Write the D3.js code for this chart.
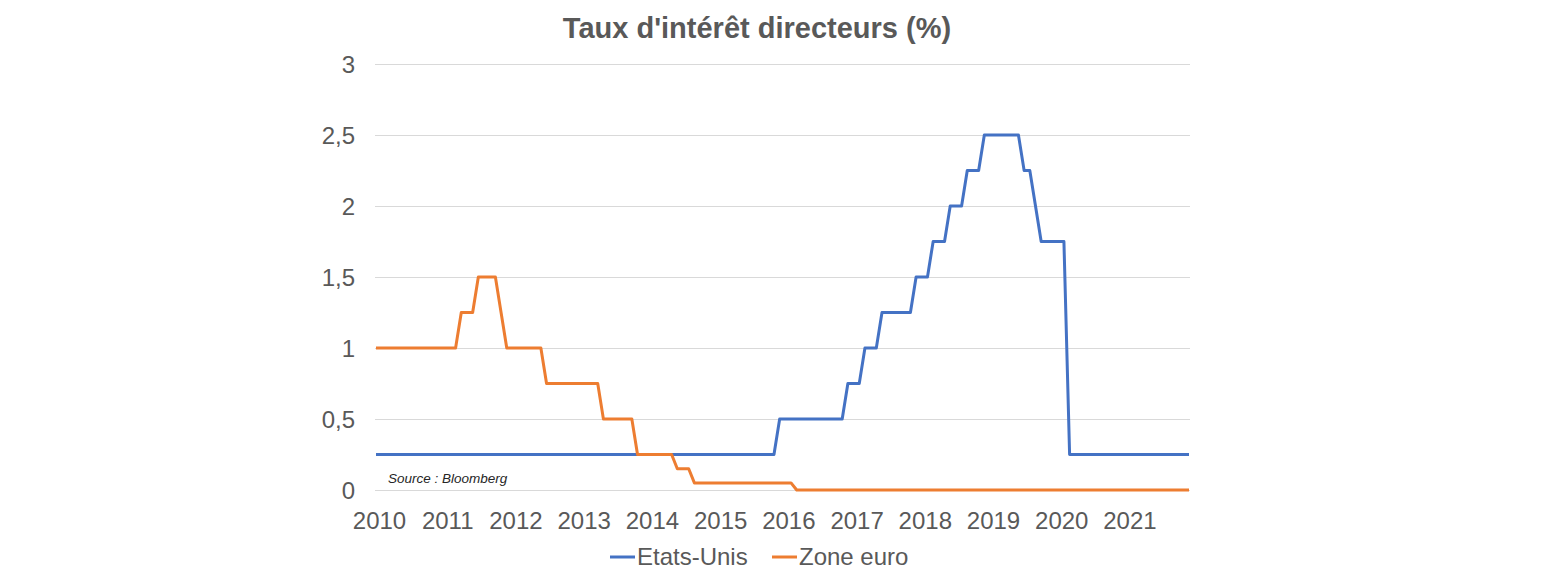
<!DOCTYPE html>
<html>
<head>
<meta charset="utf-8">
<script src="https://cdn.jsdelivr.net/npm/d3@7"></script>
<style>
  html, body { margin: 0; padding: 0; background: #fff; }
  svg { display: block; font-family: "Liberation Sans", Arial, sans-serif; }
</style>
</head>
<body>
<svg id="chart" width="1560" height="582"></svg>
<script>
// ---- Data ----
const title = "Taux d'intérêt directeurs (%)";
const sourceNote = "Source : Bloomberg";
const years = [2010, 2011, 2012, 2013, 2014, 2015, 2016, 2017, 2018, 2019, 2020, 2021];
const months = years.flatMap(y => d3.range(1, 13).map(m => `${y}-${String(m).padStart(2, "0")}`));
const yTicks = [0, 0.5, 1, 1.5, 2, 2.5, 3];
const seriesNames = ["Etats-Unis", "Zone euro"];
const seriesColors = ["#4472c4", "#ed7d31"];

// Monthly policy rates, Jan 2010 .. Dec 2021 (one row per year, 12 months each)
const usRates = [
  0.25,0.25,0.25,0.25,0.25,0.25,0.25,0.25,0.25,0.25,0.25,0.25, // 2010
  0.25,0.25,0.25,0.25,0.25,0.25,0.25,0.25,0.25,0.25,0.25,0.25, // 2011
  0.25,0.25,0.25,0.25,0.25,0.25,0.25,0.25,0.25,0.25,0.25,0.25, // 2012
  0.25,0.25,0.25,0.25,0.25,0.25,0.25,0.25,0.25,0.25,0.25,0.25, // 2013
  0.25,0.25,0.25,0.25,0.25,0.25,0.25,0.25,0.25,0.25,0.25,0.25, // 2014
  0.25,0.25,0.25,0.25,0.25,0.25,0.25,0.25,0.25,0.25,0.25,0.5,  // 2015
  0.5,0.5,0.5,0.5,0.5,0.5,0.5,0.5,0.5,0.5,0.5,0.75,            // 2016
  0.75,0.75,1,1,1,1.25,1.25,1.25,1.25,1.25,1.25,1.5,           // 2017
  1.5,1.5,1.75,1.75,1.75,2,2,2,2.25,2.25,2.25,2.5,             // 2018
  2.5,2.5,2.5,2.5,2.5,2.5,2.25,2.25,2,1.75,1.75,1.75,          // 2019
  1.75,1.75,0.25,0.25,0.25,0.25,0.25,0.25,0.25,0.25,0.25,0.25, // 2020
  0.25,0.25,0.25,0.25,0.25,0.25,0.25,0.25,0.25,0.25,0.25,0.25  // 2021
];
const euroRates = [
  1,1,1,1,1,1,1,1,1,1,1,1,                                     // 2010
  1,1,1,1.25,1.25,1.25,1.5,1.5,1.5,1.5,1.25,1,                 // 2011
  1,1,1,1,1,1,0.75,0.75,0.75,0.75,0.75,0.75,                   // 2012
  0.75,0.75,0.75,0.75,0.5,0.5,0.5,0.5,0.5,0.5,0.25,0.25,       // 2013
  0.25,0.25,0.25,0.25,0.25,0.15,0.15,0.15,0.05,0.05,0.05,0.05, // 2014
  0.05,0.05,0.05,0.05,0.05,0.05,0.05,0.05,0.05,0.05,0.05,0.05, // 2015
  0.05,0.05,0,0,0,0,0,0,0,0,0,0,                               // 2016
  0,0,0,0,0,0,0,0,0,0,0,0,                                     // 2017
  0,0,0,0,0,0,0,0,0,0,0,0,                                     // 2018
  0,0,0,0,0,0,0,0,0,0,0,0,                                     // 2019
  0,0,0,0,0,0,0,0,0,0,0,0,                                     // 2020
  0,0,0,0,0,0,0,0,0,0,0,0                                      // 2021
];
const seriesValues = [usRates, euroRates];

// ---- Layout ----
const svg = d3.select("#chart");
const plot = { left: 375, right: 1190, top: 64, bottom: 490 };
const textColor = "#595959";

const x = d3.scalePoint().domain(months).range([plot.left + 1, plot.right - 1]);
const y = d3.scaleLinear().domain([0, 3]).range([plot.bottom, plot.top]);

// Title
svg.append("text")
  .attr("x", 757).attr("y", 38)
  .attr("text-anchor", "middle")
  .attr("font-size", 29).attr("font-weight", "bold")
  .attr("fill", textColor)
  .text(title);

// Gridlines + y axis labels
const yAxis = d3.axisLeft(y)
  .tickValues(yTicks)
  .tickSize(-(plot.right - plot.left))
  .tickPadding(20)
  .tickFormat(d => String(d).replace(".", ","));
const gy = svg.append("g")
  .attr("transform", `translate(${plot.left},0)`)
  .call(yAxis);
gy.select(".domain").remove();
gy.selectAll(".tick line").attr("stroke", "#d9d9d9").attr("stroke-width", 1);
gy.selectAll(".tick text")
  .attr("font-size", 24).attr("fill", textColor)
  .attr("font-family", "Liberation Sans, Arial, sans-serif")
  .attr("dy", "0.35em");

// X axis labels (January of each year)
const xAxis = d3.axisBottom(x)
  .tickValues(years.map(yr => `${yr}-01`))
  .tickSize(0)
  .tickPadding(22)
  .tickFormat(d => d.slice(0, 4));
const gx = svg.append("g")
  .attr("transform", `translate(0,${plot.bottom})`)
  .call(xAxis);
gx.select(".domain").remove();
gx.selectAll(".tick text")
  .attr("font-size", 24).attr("fill", textColor)
  .attr("font-family", "Liberation Sans, Arial, sans-serif")
  .attr("dx", 3);

// Lines
const line = d3.line()
  .x((d, i) => x(months[i]))
  .y(d => y(d));
seriesValues.forEach((vals, k) => {
  svg.append("path")
    .datum(vals)
    .attr("fill", "none")
    .attr("stroke", seriesColors[k])
    .attr("stroke-width", 3)
    .attr("stroke-linejoin", "round")
    .attr("d", line);
});

// Source note
svg.append("text")
  .attr("x", 388).attr("y", 483)
  .attr("font-size", 13.5).attr("font-style", "italic")
  .attr("fill", "#262626")
  .text(sourceNote);

// Legend
const legendItems = [{ x: 610 }, { x: 772 }];
seriesNames.forEach((name, k) => {
  const g = svg.append("g").attr("transform", `translate(${legendItems[k].x},557)`);
  g.append("line").attr("x1", 0).attr("x2", 25).attr("y1", 0).attr("y2", 0)
    .attr("stroke", seriesColors[k]).attr("stroke-width", 3);
  g.append("text").attr("x", 27).attr("y", 0).attr("dy", "0.35em")
    .attr("font-size", 24).attr("fill", textColor)
    .text(name);
});
</script>
</body>
</html>
